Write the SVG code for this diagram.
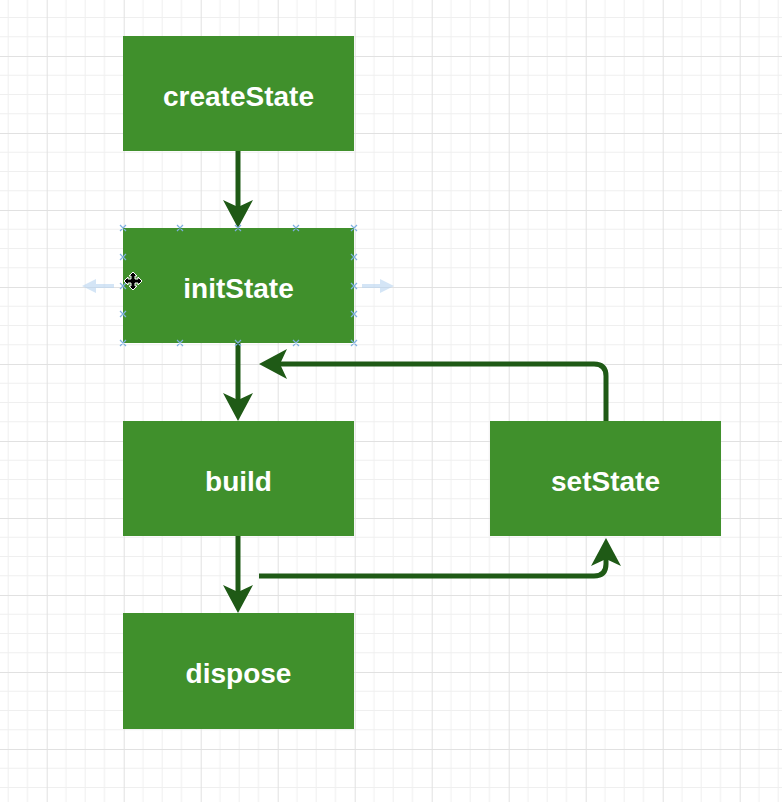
<svg xmlns="http://www.w3.org/2000/svg" width="782" height="802" viewBox="0 0 782 802">
<style>
.box{fill:#40902c}
.lbl{font-family:"Liberation Sans",Arial,sans-serif;font-weight:bold;font-size:28px;fill:#ffffff;text-anchor:middle;dominant-baseline:central}
.conn{fill:none;stroke:#1f5a16;stroke-width:5}
.h{stroke:#7fb0e0;stroke-width:1.2}
</style>
<defs>
<pattern id="grid" patternUnits="userSpaceOnUse" x="46.7" y="56" width="77" height="77">
<rect width="77" height="77" fill="#ffffff"/>
<path d="M19.25,0V77M38.5,0V77M57.75,0V77M0,19.25H77M0,38.5H77M0,57.75H77" stroke="#efefef" stroke-width="1"/>
<path d="M0.5,0V77M0,0.5H77" stroke="#e1e1e1" stroke-width="1"/>
</pattern>
<marker id="arr" markerUnits="userSpaceOnUse" viewBox="0 0 28 30" refX="7" refY="15" markerWidth="28" markerHeight="30" orient="auto">
<path d="M0,0 L28,15 L0,30 L7,15 Z" fill="#1f5a16"/>
</marker>
</defs>
<rect width="782" height="802" fill="url(#grid)"/>
<g id="createState"><rect class="box" x="123" y="36" width="231" height="115"/><text class="lbl" x="238.5" y="96">createState</text></g>
<g id="initState"><rect class="box" x="123" y="228" width="231" height="115"/><text class="lbl" x="238.5" y="288">initState</text></g>
<g id="build"><rect class="box" x="123" y="421" width="231" height="115"/><text class="lbl" x="238.5" y="481">build</text></g>
<g id="dispose"><rect class="box" x="123" y="613" width="231" height="116"/><text class="lbl" x="238.5" y="673">dispose</text></g>
<g id="setState"><rect class="box" x="490" y="421" width="231" height="115"/><text class="lbl" x="605.5" y="481">setState</text></g>
<g id="connectors">
<path class="conn" d="M238,151 V207" marker-end="url(#arr)"/>
<path class="conn" d="M238,343 V400" marker-end="url(#arr)"/>
<path class="conn" d="M606,421 V376 Q606,364 594,364 H280" marker-end="url(#arr)"/>
<path class="conn" d="M238,536 V592" marker-end="url(#arr)"/>
<path class="conn" d="M259,576 H594 Q606,576 606,564 V559" marker-end="url(#arr)"/>
</g>
<g id="selection">
<path d="M82,286 L96,279 V284 H114 V288 H96 V293 Z" fill="#b8d4f0" opacity="0.6"/>
<path d="M394,286 L380,279 V284 H362 V288 H380 V293 Z" fill="#b8d4f0" opacity="0.6"/>
<g class="h">
<path d="M120,225l6,6m0,-6l-6,6M177,225l6,6m0,-6l-6,6M235,225l6,6m0,-6l-6,6M293,225l6,6m0,-6l-6,6M351,225l6,6m0,-6l-6,6"/>
<path d="M120,340l6,6m0,-6l-6,6M177,340l6,6m0,-6l-6,6M235,340l6,6m0,-6l-6,6M293,340l6,6m0,-6l-6,6M351,340l6,6m0,-6l-6,6"/>
<path d="M120,254l6,6m0,-6l-6,6M120,283l6,6m0,-6l-6,6M120,311l6,6m0,-6l-6,6"/>
<path d="M351,254l6,6m0,-6l-6,6M351,283l6,6m0,-6l-6,6M351,311l6,6m0,-6l-6,6"/>
</g>
<path d="M133,272 L137,276 H135 V279 H138 V277 L142,281 L138,285 V283 H135 V286 H137 L133,290 L129,286 H131 V283 H128 V285 L124,281 L128,277 V279 H131 V276 H129 Z" fill="#000000" stroke="#ffffff" stroke-width="1"/>
</g>
</svg>
